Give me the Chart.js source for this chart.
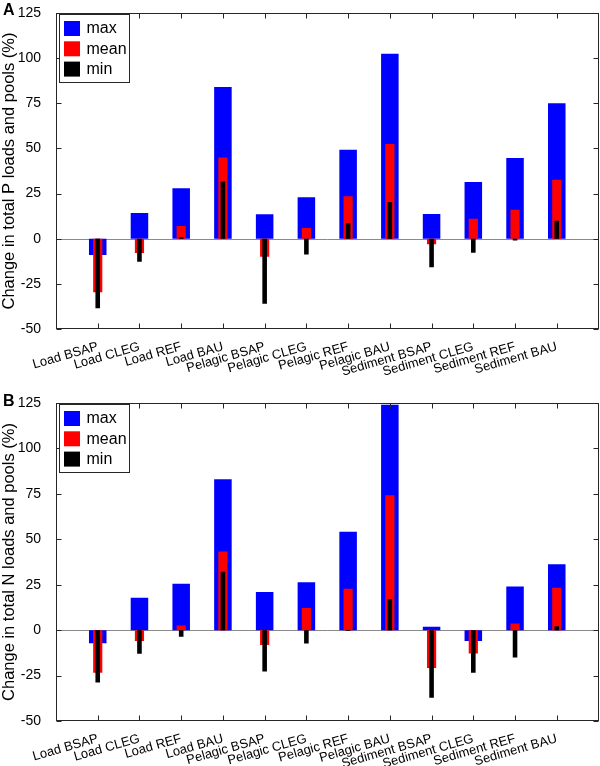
<!DOCTYPE html>
<html>
<head>
<meta charset="UTF-8">
<title>Change in total P and N loads and pools</title>
<script src="https://cdn.jsdelivr.net/npm/chart.js@4/dist/chart.umd.min.js"></script>
<style>
   body { margin: 0; background: #fff; }
   .panel { position: absolute; left: 0; width: 600px; height: 383px; }
</style>
</head>
<body>
<div class="panel" style="top:0"><canvas id="chartP" width="600" height="383"></canvas></div>
<div class="panel" style="top:383px"><canvas id="chartN" width="600" height="383"></canvas></div>
<script>
   const categories = [
      "Load BSAP", "Load CLEG", "Load REF", "Load BAU",
      "Pelagic BSAP", "Pelagic CLEG", "Pelagic REF", "Pelagic BAU",
      "Sediment BSAP", "Sediment CLEG", "Sediment REF", "Sediment BAU"
   ];
   const yTicks = [-50, -25, 0, 25, 50, 75, 100, 125];
   const seriesNames = ["max", "mean", "min"];
   const seriesColors = ["#0000ff", "#ff0000", "#000000"];

   // panel A: total P
   const pMax = [-9, 14.2, 28, 84, 13.5, 23, 49.3, 102.5, 13.7, 31.4, 44.7, 75];
   const pMean = [-29.7, -7.9, 7, 45, -10, 6, 23.5, 52.4, -3, 11, 16, 32.7];
   const pMin = [-38.5, -12.8, 1, 31.7, -36, -8.8, 8.7, 20.4, -15.8, -7.8, -1, 10];

   // panel B: total N
   const nMax = [-7.2, 17.8, 25.5, 83, 21, 26.3, 54.2, 124, 1.8, -6, 24, 36.2];
   const nMean = [-23.5, -6, 2.5, 43.3, -8.2, 12.2, 22.8, 74.2, -20.8, -12.8, 3.7, 23.3];
   const nMin = [-28.8, -13, -3.7, 32.2, -22.7, -7.3, -0.5, 17.2, -37.2, -23.5, -15, 2.2];

   const FONT = "'Liberation Sans', Arial, sans-serif";

   // x axis runs from 0 to 13, categories sit on 1..12
   const pad = v => [null, ...v, null];

   function makeDatasets(maxVals, meanVals, minVals) {
      const widths = [0.42, 0.22, 0.11];
      return [maxVals, meanVals, minVals].map((vals, i) => ({
         label: seriesNames[i],
         data: pad(vals),
         backgroundColor: seriesColors[i],
         barPercentage: widths[i],
         categoryPercentage: 1,
         order: 3 - i
      }));
   }

   const framePlugin = {
      id: "frame",
      beforeDatasetsDraw(chart) {
         const { ctx, chartArea: a, scales: { y } } = chart;
         const y0 = Math.round(y.getPixelForValue(0)) + 0.5;
         ctx.save();
         ctx.strokeStyle = "#8a8a8a";
         ctx.lineWidth = 1;
         ctx.beginPath();
         ctx.moveTo(a.left, y0);
         ctx.lineTo(a.right, y0);
         ctx.stroke();
         ctx.restore();
      },
      afterDatasetsDraw(chart) {
         const { ctx, chartArea: a, scales: { x, y } } = chart;
         const L = Math.round(a.left) + 0.5, R = Math.round(a.right) - 0.5;
         const T = Math.round(a.top) + 0.5, B = Math.round(a.bottom) - 0.5;
         ctx.save();
         ctx.strokeStyle = "#262626";
         ctx.lineWidth = 1;
         ctx.strokeRect(L, T, R - L, B - T);
         // inward ticks on all four sides
         ctx.beginPath();
         for (const v of yTicks) {
            const py = Math.round(y.getPixelForValue(v)) + 0.5;
            ctx.moveTo(L, py); ctx.lineTo(L + 5, py);
            ctx.moveTo(R, py); ctx.lineTo(R - 5, py);
         }
         for (let i = 1; i <= categories.length; i++) {
            const px = Math.round(x.getPixelForValue(i)) + 0.5;
            ctx.moveTo(px, B); ctx.lineTo(px, B - 5);
            ctx.moveTo(px, T); ctx.lineTo(px, T + 5);
         }
         ctx.stroke();
         ctx.restore();
      },
      afterDraw(chart, args, opts) {
         const { ctx, chartArea: a } = chart;
         ctx.save();
         // legend box in the upper left corner of the axes
         const bx = Math.round(a.left + 3) + 0.5, by = Math.round(a.top + 1) + 0.5;
         ctx.fillStyle = "#fff";
         ctx.fillRect(bx, by, 70, 68);
         ctx.strokeStyle = "#262626";
         ctx.strokeRect(bx, by, 70, 68);
         ctx.font = "16px " + FONT;
         ctx.textBaseline = "middle";
         chart.data.datasets.forEach((ds, i) => {
            const sy = by + 6.5 + i * 20.3;
            ctx.fillStyle = ds.backgroundColor;
            ctx.fillRect(bx + 4.5, sy, 16, 15);
            ctx.fillStyle = "#000";
            ctx.fillText(ds.label, bx + 27, sy + 8);
         });
         // panel letter
         ctx.font = "bold 16px " + FONT;
         ctx.textBaseline = "alphabetic";
         ctx.fillText(opts.letter, 3, opts.letterY);
         ctx.restore();
      }
   };

   function makeChart(canvasId, letter, letterY, topPad, xHeight, yTitle, maxVals, meanVals, minVals) {
      return new Chart(document.getElementById(canvasId), {
         type: "bar",
         data: {
            labels: ["", ...categories, ""],
            datasets: makeDatasets(maxVals, meanVals, minVals)
         },
         options: {
            responsive: false,
            animation: false,
            grouped: false,
            layout: { padding: { left: 0, right: 1.5, top: topPad, bottom: 0 } },
            plugins: {
               legend: { display: false },
               tooltip: { enabled: false },
               frame: { letter: letter, letterY: letterY }
            },
            scales: {
               x: {
                  offset: false,
                  grid: { display: false },
                  border: { display: false },
                  ticks: {
                     autoSkip: false,
                     maxRotation: 16,
                     minRotation: 16,
                     padding: 2,
                     color: "#000",
                     font: { family: FONT, size: 13 }
                  },
                  afterFit: s => {
                     s.height = xHeight;
                     s.paddingLeft = 0;
                     s.paddingRight = 0;
                  }
               },
               y: {
                  min: -50,
                  max: 125,
                  afterBuildTicks: s => { s.ticks = yTicks.map(v => ({ value: v })); },
                  grid: { display: false },
                  border: { display: false },
                  ticks: {
                     padding: 7,
                     color: "#000",
                     font: { family: FONT, size: 14 }
                  },
                  title: {
                     display: true,
                     text: yTitle,
                     color: "#000",
                     padding: 0,
                     font: { family: FONT, size: 16.5 }
                  },
                  afterFit: s => {
                     s.width = 56;
                     s.paddingTop = 0;
                     s.paddingBottom = 0;
                  }
               }
            }
         },
         plugins: [framePlugin]
      });
   }

   makeChart("chartP", "A", 15, 13, 54,
      "Change in total P loads and pools (%)", pMax, pMean, pMin);
   makeChart("chartN", "B", 23, 20, 45,
      "Change in total N loads and pools (%)", nMax, nMean, nMin);
</script>
</body>
</html>
